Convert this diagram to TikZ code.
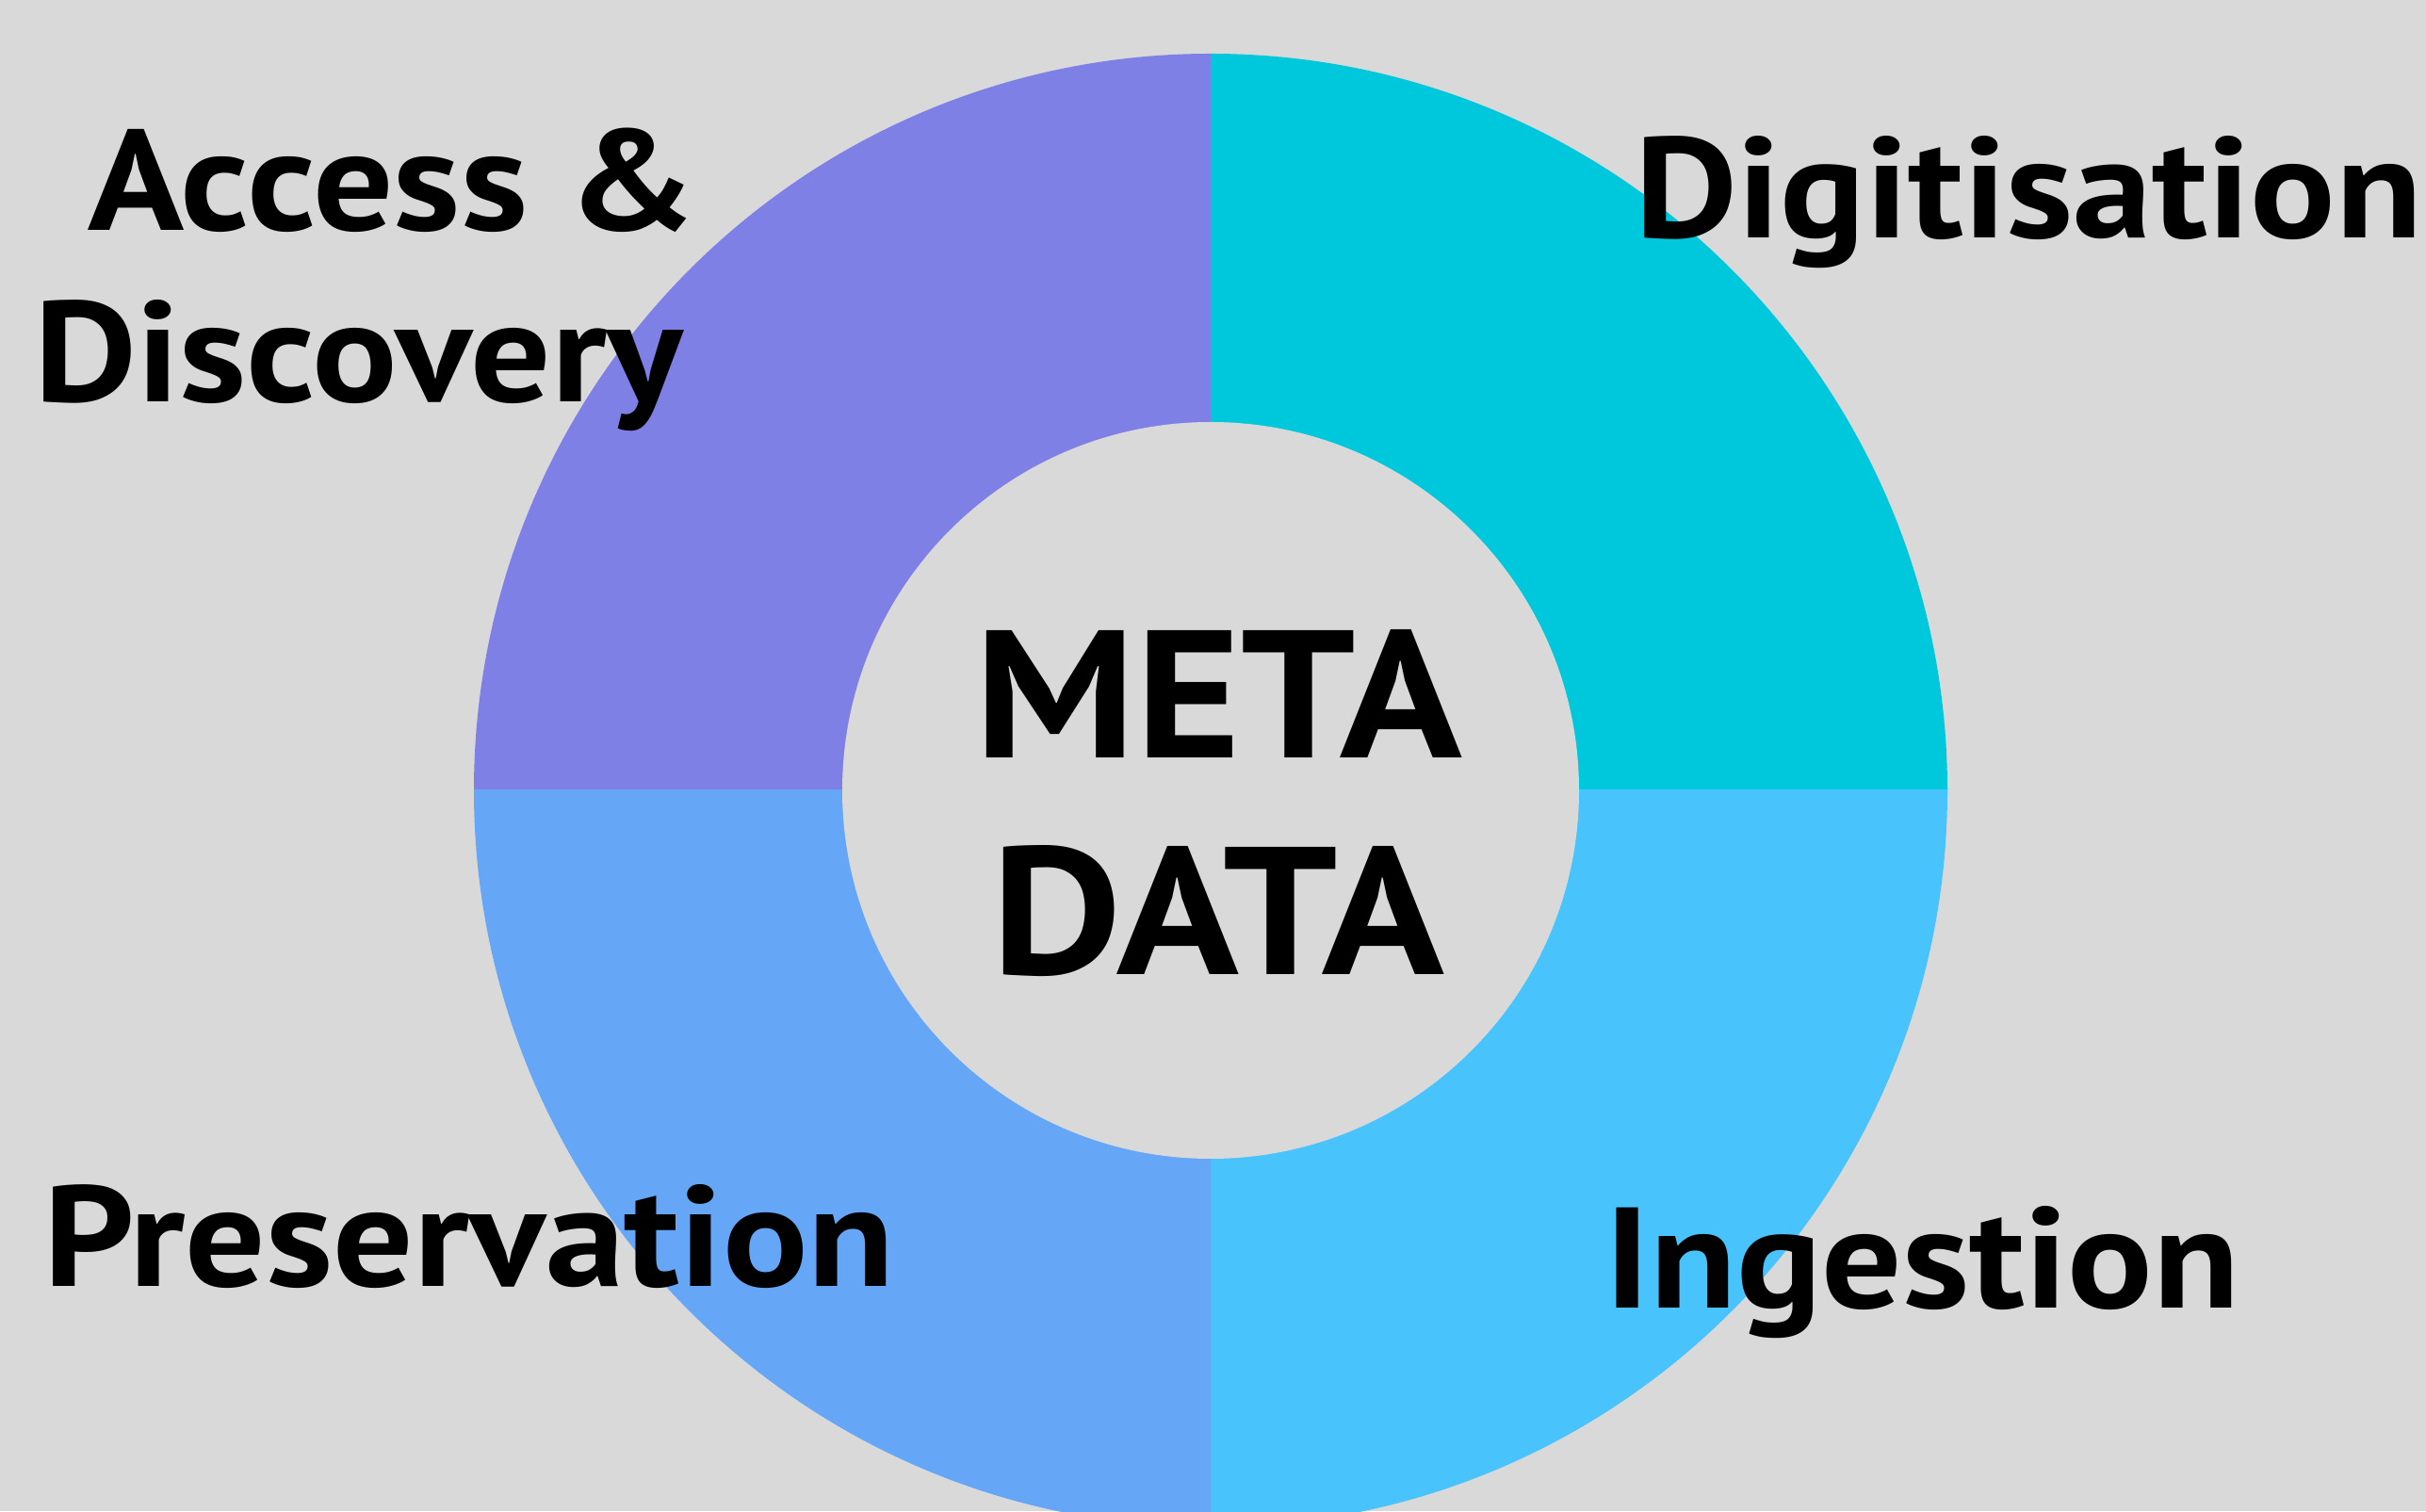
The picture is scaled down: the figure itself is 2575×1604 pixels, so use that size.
\documentclass[tikz,border=0pt]{standalone}
\usepackage{fontspec}
\setmainfont{PT Sans}[FakeStretch=1.11]
\definecolor{bgc}{HTML}{D9D9D9}
\definecolor{qpurple}{HTML}{7F80E6}
\definecolor{qcyan}{HTML}{00C8DC}
\definecolor{qsky}{HTML}{48C3FC}
\definecolor{qblue}{HTML}{65A6F7}
\tikzset{
  lbl/.style={inner sep=0pt, outer sep=0pt, font=\fontsize{152}{155}\selectfont\bfseries, text=black},
  ctr/.style={inner sep=0pt, outer sep=0pt, font=\fontsize{193}{195}\selectfont\bfseries, text=black}
}
\begin{document}
\begin{tikzpicture}[x=1pt,y=1pt]
\useasboundingbox (0,0) rectangle (2575,1604);
\clip (0,0) rectangle (2575,1604);
\fill[bgc] (0,0) rectangle (2575,1604);
\coordinate (c) at (1285,765);
\def\Ro{782}
\def\Ri{391}
\begin{scope}\clip (c) rectangle ++(-\Ro,\Ro); \fill[qpurple] (c) circle (\Ro); \end{scope}
\begin{scope}\clip (c) rectangle ++(\Ro,\Ro); \fill[qcyan] (c) circle (\Ro); \end{scope}
\begin{scope}\clip (c) rectangle ++(\Ro,-\Ro); \fill[qsky] (c) circle (\Ro); \end{scope}
\begin{scope}\clip (c) rectangle ++(-\Ro,-\Ro); \fill[qblue] (c) circle (\Ro); \end{scope}
\fill[bgc] (c) circle (\Ri);
\node[lbl, anchor=base west] (access) at (93,1359) {Access \&};
\node[lbl, anchor=base west] (discovery) at (36,1177) {Discovery};
\node[lbl, anchor=base west] (digit) at (1735,1351) {Digitisation};
\node[lbl, anchor=base west] (pres) at (46,238) {Preservation};
\node[lbl, anchor=base west] (ingest) at (1703,215) {Ingestion};
\node[ctr, anchor=base] (meta) at (1293,799) {META};
\node[ctr, anchor=base] (data) at (1293,569) {DATA};
\end{tikzpicture}
\end{document}
